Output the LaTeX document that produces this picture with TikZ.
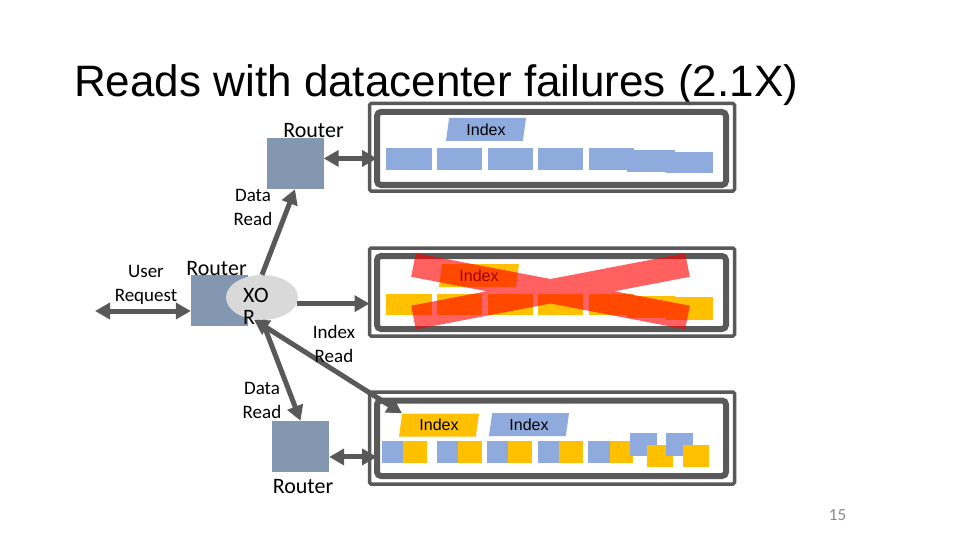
\documentclass[tikz,border=0pt]{standalone}
\usepackage{fontspec}
\usepackage{tikz}
\usepackage{xcolor}
\usetikzlibrary{arrows.meta}
\usetikzlibrary{shapes.geometric}
\setmainfont{Carlito}
\newfontfamily\arialfont{Liberation Sans}
\definecolor{dgray}{HTML}{595959}
\definecolor{rblue}{HTML}{8497B0}
\definecolor{bblue}{HTML}{8FAADC}
\definecolor{gold}{HTML}{FFC000}
\definecolor{lgray}{HTML}{D9D9D9}
\definecolor{pgnum}{HTML}{898989}

\begin{document}
\begin{tikzpicture}[x=1pt,y=-1pt,
  router/.style={fill=rblue, minimum width=57pt, minimum height=51pt, inner sep=0pt},
  frameout/.style={draw=dgray, line width=3.5pt, minimum width=365pt, inner sep=0pt, outer sep=0pt, rounded corners=1.5pt},
  framein/.style={draw=dgray, line width=6pt, minimum width=349pt, inner sep=0pt, outer sep=0pt, rounded corners=4pt},
  idxlabel/.style={trapezium, trapezium left angle=75, trapezium right angle=105, trapezium stretches body,
    minimum width=80pt, minimum height=23pt, inner sep=0pt, font=\arialfont\fontsize{16}{16}\selectfont},
  arr/.style={draw=dgray, line width=5pt},
  lbl/.style={align=center, inner sep=0pt, font=\fontsize{19}{24}\selectfont},
  rlabel/.style={anchor=base, inner sep=0pt, font=\fontsize{22}{22}\selectfont},
  >={Triangle[length=15pt,width=16pt]}]
\useasboundingbox (0,0) rectangle (960,540);
\node[anchor=base west, inner sep=0pt, font=\arialfont\fontsize{44}{44}\selectfont] (title) at (74,97) {Reads with datacenter failures (2.1X)};

% datacenters
\node[frameout, minimum height=87.5pt] (dc1o) at (552,147.25) {};
\node[framein, minimum height=73pt] (dc1) at (551.5,148.5) {};
\node[frameout, minimum height=88pt] (dc2o) at (552,292) {};
\node[framein, minimum height=73pt] (dc2) at (551.5,292.5) {};
\node[frameout, minimum height=92pt] (dc3o) at (552,438) {};
\node[framein, minimum height=75.5pt] (dc3) at (551.5,438.25) {};

% top datacenter
\fill[bblue] (386,148) rectangle (432,170);
\fill[bblue] (437,148) rectangle (482,170);
\fill[bblue] (488,148) rectangle (533,170);
\fill[bblue] (538,148) rectangle (583,170);
\fill[bblue] (589,148) rectangle (634,170);
\fill[bblue] (627,150) rectangle (675,172);
\fill[bblue] (666,152) rectangle (713,173);
\node[idxlabel, fill=bblue] (idx1) at (486,129.5) {Index};

% failed datacenter
\fill[gold] (386,294) rectangle (432,315);
\fill[gold] (437,294) rectangle (482,315);
\fill[gold] (488,294) rectangle (533,315);
\fill[gold] (538,294) rectangle (583,315);
\fill[gold] (589,294) rectangle (634,315);
\fill[gold] (627,296) rectangle (675,318);
\fill[gold] (666,297) rectangle (713,320);
\node[idxlabel, fill=gold] (idx2) at (479,275.5) {Index};
\fill[red, fill opacity=0.62] (415.8,253.2) -- (689.8,305.7) -- (685.2,329.3) -- (411.2,276.8) -- cycle
  (411.2,305.7) -- (685.2,253.2) -- (689.8,276.8) -- (415.8,329.3) -- cycle;

% bottom datacenter
\fill[bblue] (382,441) rectangle (403,463);
\fill[gold] (403,441) rectangle (427,463);
\fill[bblue] (437,441) rectangle (458,463);
\fill[gold] (458,441) rectangle (482,463);
\fill[bblue] (487,441) rectangle (508,463);
\fill[gold] (508,441) rectangle (532,463);
\fill[bblue] (538,441) rectangle (559,463);
\fill[gold] (559,441) rectangle (583,463);
\fill[bblue] (588,441) rectangle (610,463);
\fill[gold] (610,441) rectangle (633,463);
\fill[bblue] (630,433) rectangle (657,456);
\fill[gold] (647,445) rectangle (673,467);
\fill[bblue] (666,433) rectangle (693,456);
\fill[gold] (683,445) rectangle (709,467);
\node[idxlabel, fill=gold] (idx3) at (439,425) {Index};
\node[idxlabel, fill=bblue] (idx4) at (529,424.5) {Index};

% routers
\node[router] (rt) at (295,163.5) {};
\node[router] (rm) at (219.5,300) {};
\node[router] (rb) at (300.5,446.5) {};
\node[ellipse, fill=lgray, minimum width=72pt, minimum height=45pt, inner sep=0pt] (xor) at (262,297.5) {};
\coordinate (usr) at (95,311);

\draw[arr,<->] (usr) -- (usr -| rm.west);
\draw[arr,->] (xor.north) -- (rt.south);
\draw[arr,->] (xor.south) -- (rb.north);
\draw[arr,<->] (xor.-110) -- (idx3.top left corner);
\draw[arr,->] (xor.-10) -- (xor.-10 -| dc2o.west);
\draw[arr,<->] (rt.10) -- (rt.10 -| dc1.west);
\draw[arr,<->] (rb.-20) -- (rb.-20 -| dc3.west);

% labels
\node[rlabel] (rtl) at (313.5,138) {Router};
\node[rlabel] (rml) at (216.5,275) {Router};
\node[rlabel] (rbl) at (303,493) {Router};
\node[anchor=west, align=left, inner sep=0pt, font=\fontsize{22}{22}\selectfont] (xorl) at (243,306) {XO\\R};
\node[lbl] (usrl) at (146,285) {User\\Request};
\node[lbl] (dr1) at (253,207) {Data\\Read};
\node[lbl] (dr2) at (262,400) {Data\\Read};
\node[lbl] (ir) at (334,344) {Index\\Read};
\node[text=pgnum, inner sep=0pt, font=\fontsize{17}{17}\selectfont] (pg) at (837.5,515) {15};
\end{tikzpicture}
\end{document}
